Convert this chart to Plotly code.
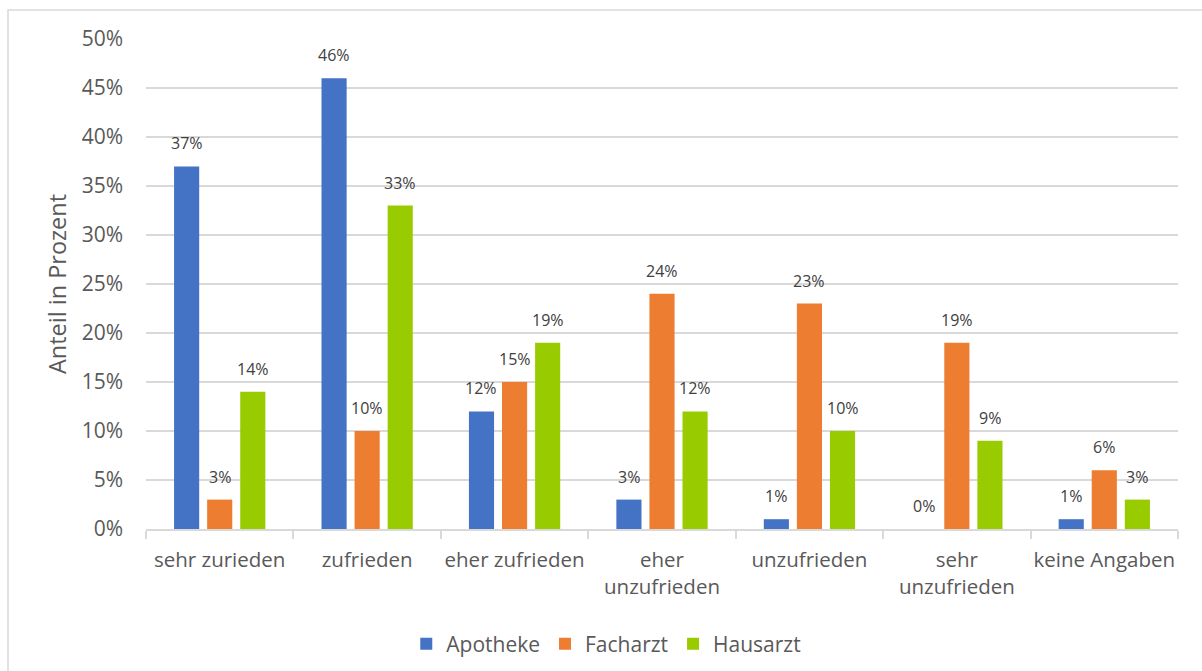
import plotly.graph_objects as go

categories = ["sehr zurieden", "zufrieden", "eher zufrieden", "eher<br>unzufrieden",
              "unzufrieden", "sehr<br>unzufrieden", "keine Angaben"]
apotheke = [0.37, 0.46, 0.12, 0.03, 0.01, 0.00, 0.01]
facharzt = [0.03, 0.10, 0.15, 0.24, 0.23, 0.19, 0.06]
hausarzt = [0.14, 0.33, 0.19, 0.12, 0.10, 0.09, 0.03]
y_ticks = [0, 0.05, 0.10, 0.15, 0.20, 0.25, 0.30, 0.35, 0.40, 0.45, 0.50]

series = [
    ("Apotheke", apotheke, "#4472C4"),
    ("Facharzt", facharzt, "#ED7D31"),
    ("Hausarzt", hausarzt, "#99CC00"),
]

FONT = "Open Sans, Noto Sans, sans-serif"
GREY = "#595959"

W, H = 1202, 671
ml, mr, mt, mb = 146, 24, 39, 142
pw, ph = W - ml - mr, H - mt - mb
BARGAP, GROUPGAP = 0.327, 0.24
slot = pw / len(categories) * (1 - BARGAP) / len(series)

fig = go.Figure()
annotations = []
for i, (name, vals, color) in enumerate(series):
    fig.add_trace(go.Bar(
        name=name, x=categories, y=vals,
        marker=dict(color=color, line=dict(width=0)),
    ))
    # value labels sit a little above each bar
    for cat, v in zip(categories, vals):
        annotations.append(dict(
            x=cat, y=v, xref="x", yref="y", text=f"{round(v * 100)}%",
            showarrow=False, yanchor="bottom", xanchor="center",
            xshift=(i - (len(series) - 1) / 2) * slot, yshift=10,
            font=dict(size=16, color="#404040", family=FONT),
        ))

fig.update_layout(
    width=W, height=H,
    margin=dict(l=ml, r=mr, t=mt, b=mb, pad=0, autoexpand=False),
    paper_bgcolor="white", plot_bgcolor="white",
    barmode="group", bargap=BARGAP, bargroupgap=GROUPGAP,
    font=dict(family=FONT, color=GREY, size=20),
    showlegend=True,
    legend=dict(orientation="h", x=0.446, xanchor="center", y=-0.235, yanchor="middle",
                font=dict(size=21, color=GREY), traceorder="normal", itemwidth=30),
    xaxis=dict(
        showgrid=False, showline=True, linecolor="#D9D9D9", linewidth=1.5,
        ticks="outside", tickson="boundaries", ticklen=8, tickcolor="#D9D9D9", tickwidth=1.5,
        ticklabelstandoff=12, tickangle=0, automargin=False,
        tickfont=dict(size=20.5, color=GREY),
    ),
    yaxis=dict(
        range=[0, 0.5], tickvals=y_ticks, tickformat=".0%",
        showgrid=True, gridcolor="#D9D9D9", gridwidth=1.5,
        zeroline=False, showline=False, ticks="", ticklabelstandoff=22, automargin=False,
        tickfont=dict(size=21, color=GREY),
        title=dict(text="Anteil in Prozent", font=dict(size=23.5, color=GREY), standoff=8),
    ),
    annotations=annotations,
    shapes=[dict(
        type="rect", xref="paper", yref="paper", layer="below",
        x0=(8 - ml) / pw, x1=(W + 10 - ml) / pw,
        y0=-(H + 10 - mt - ph) / ph, y1=1 + (mt - 10) / ph,
        line=dict(color="#D9D9D9", width=1.5), fillcolor="rgba(0,0,0,0)",
    )],
)

fig.write_html("out.html")
